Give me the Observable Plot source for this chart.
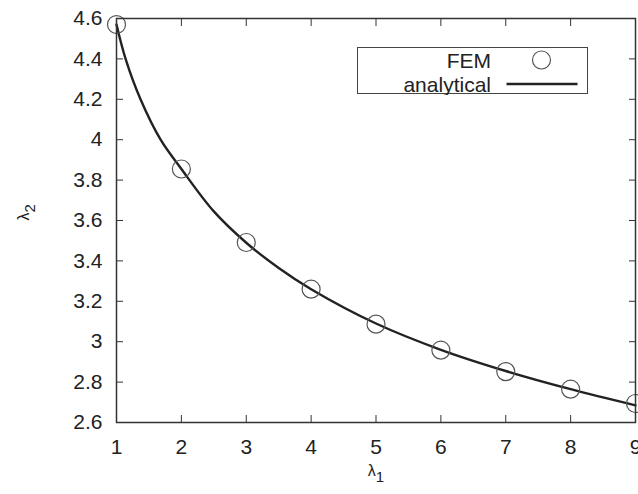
<!DOCTYPE html>
<html>
<head>
<meta charset="utf-8">
<script src="https://cdn.jsdelivr.net/npm/d3@7"></script>
<script src="https://cdn.jsdelivr.net/npm/@observablehq/plot@0.6"></script>
<style>
  body { margin: 0; background: #fff; }
  #wrap { position: relative; width: 638px; height: 494px; font-family: "Liberation Sans", Arial, sans-serif; }
  #legend { position: absolute; left: 357px; top: 47px; width: 231px; height: 47px; border: 1px solid #444; background: #fff; box-sizing: border-box; }
  #legend svg { position: absolute; left: 0; top: 0; }
</style>
</head>
<body>
<div id="wrap"></div>
<script>
// FEM results (circles)
const femX = [1, 2, 3, 4, 5, 6, 7, 8, 9];
const femY = [4.57, 3.855, 3.491, 3.26, 3.087, 2.958, 2.852, 2.765, 2.694];
// analytical curve
const anaX = [1, 1.14, 1.37, 1.68, 2, 2.5, 3, 3.5, 4, 5, 6, 7, 8, 9];
const anaY = [4.57, 4.4, 4.2, 4.0, 3.855, 3.645, 3.49, 3.365, 3.26, 3.09, 2.96, 2.855, 2.765, 2.685];
const xTicks = [1, 2, 3, 4, 5, 6, 7, 8, 9];
const yTicks = [2.6, 2.8, 3, 3.2, 3.4, 3.6, 3.8, 4, 4.2, 4.4, 4.6];
const legendLabels = ["FEM", "analytical"];
const xLabel = ["λ", "1"];
const yLabel = ["λ", "2"];

const fem = femX.map((x, i) => ({x, y: femY[i]}));
const ana = anaX.map((x, i) => ({x, y: anaY[i]}));

const ink = "#222";
const chart = Plot.plot({
  width: 638,
  height: 494,
  marginLeft: 116,
  marginRight: 3,
  marginTop: 18,
  marginBottom: 72,
  style: {fontFamily: "Liberation Sans, Arial, sans-serif", fontSize: "21px", color: ink, background: "#fff", overflow: "visible"},
  x: {domain: [1, 9]},
  y: {domain: [2.6, 4.6]},
  marks: [
    Plot.line(ana, {x: "x", y: "y", curve: "catmull-rom", stroke: ink, strokeWidth: 2.4}),
    Plot.dot(fem, {x: "x", y: "y", r: 9, stroke: "#555", strokeWidth: 1.2}),
    Plot.axisX(xTicks, {anchor: "bottom", tickSize: -7, fill: "none", stroke: "#333", label: null}),
    Plot.axisX(xTicks, {anchor: "top", tickSize: -7, fill: "none", stroke: "#333", label: null}),
    Plot.axisY(yTicks, {anchor: "left", tickSize: -7, fill: "none", stroke: "#333", label: null}),
    Plot.axisY(yTicks, {anchor: "right", tickSize: -7, fill: "none", stroke: "#333", label: null}),
    Plot.axisX(xTicks, {anchor: "bottom", tickSize: 0, tickPadding: 16.5, fill: ink, label: null, fontSize: 21}),
    Plot.axisY(yTicks, {anchor: "left", tickSize: 0, tickPadding: 14, fill: ink, label: null, fontSize: 21, tickFormat: d3.format("")}),
    Plot.frame({stroke: "#333", strokeWidth: 1.5}),
    Plot.text([xLabel], {frameAnchor: "bottom", dy: 53, text: d => d.join(""), fontSize: 16, fill: ink, className: "axlab"}),
    Plot.text([yLabel], {frameAnchor: "left", dx: -93, rotate: -90, text: d => d.join(""), fontSize: 16, fill: ink, className: "axlab"})
  ]
});
// render subscripts as tspans
d3.select(chart).selectAll(".axlab text").each(function(d, i) {
  const t = this.textContent;
  this.textContent = "";
  const s = d3.select(this);
  s.append("tspan").text(t.slice(0, 1));
  s.append("tspan").attr("dy", "0.45em").attr("font-size", 15).text(t.slice(1));
});
const wrap = document.getElementById("wrap");
wrap.appendChild(chart);

const legend = document.createElement("div");
legend.id = "legend";
const svg = d3.create("svg").attr("width", 231).attr("height", 47);
legendLabels.forEach((lab, i) => {
  const cy = 12 + i * 24;
  svg.append("text").attr("x", 133).attr("y", cy).attr("dy", "0.36em")
    .attr("text-anchor", "end").attr("font-size", 21).attr("fill", ink)
    .attr("font-family", "Liberation Sans, Arial, sans-serif").text(lab);
  if (i === 0) {
    svg.append("circle").attr("cx", 183.5).attr("cy", cy).attr("r", 9)
      .attr("fill", "none").attr("stroke", "#555").attr("stroke-width", 1.2);
  } else {
    svg.append("line").attr("x1", 148.5).attr("x2", 219.5).attr("y1", cy).attr("y2", cy)
      .attr("stroke", ink).attr("stroke-width", 2.4);
  }
});
legend.appendChild(svg.node());
wrap.appendChild(legend);
</script>
</body>
</html>
